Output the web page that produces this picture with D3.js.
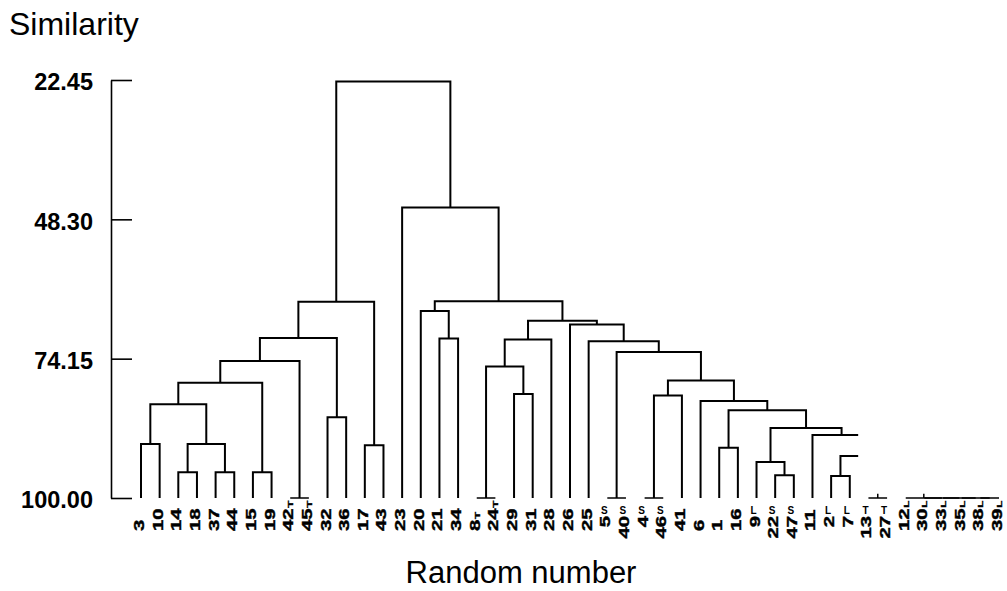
<!DOCTYPE html>
<html>
<head>
<meta charset="utf-8">
<script src="https://cdn.jsdelivr.net/npm/d3@7/dist/d3.min.js"></script>
<style>
  body { margin: 0; background: #fff; }
  svg { display: block; font-family: "Liberation Sans", Arial, sans-serif; }
</style>
</head>
<body>
<div id="chart"></div>
<script>
// leaf order along the bottom
var leaves = ["3","10","14","18","37","44","15","19","42","45","32","36","17","43",
	"23","20","21","34","8","24","29","31","28","26","25","5","40","4","46","41",
	"6","1","16","9","22","47","11","2","7","13","27","12","30","33","35","38","39"];

// small letters next to some labels: [leaf, letter, upright]
var tags = [
	["42","T",false],["45","T",false],["8","T",false],["24","T",false],
	["5","S",true],["40","S",true],["4","S",true],["46","S",true],
	["9","L",true],["22","S",true],["47","S",true],["2","L",true],["7","L",true],
	["13","T",true],["27","T",true],
	["12","L",false],["30","L",false],["33","L",false],["35","L",false],["38","L",false],["39","L",false]
];

// merges: [id, left, right, similarity]
// a number as child = branch that runs off the torn edge of the scan (leaf position)
var merges = [
	["m1","3","10",90.0],
	["m2","14","18",95.2],
	["m3","37","44",95.2],
	["m4","m2","m3",90.0],
	["m5","m1","m4",82.6],
	["m6","15","19",95.2],
	["m7","m5","m6",78.6],
	["m8","42","45",100],
	["m9","m7","m8",74.6],
	["m10","32","36",85.0],
	["m11","m9","m10",70.3],
	["m12","17","43",90.2],
	["m13","m11","m12",63.6],
	["m14","21","34",70.4],
	["m15","20","m14",65.3],
	["m16","8","24",100],
	["m17","29","31",80.7],
	["m18","m16","m17",75.6],
	["m19","m18","28",70.6],
	["m20","5","40",100],
	["m21","4","46",100],
	["m22","m21","41",81.0],
	["m23","1","16",90.7],
	["m24","22","47",95.8],
	["m25","9","m24",93.3],
	["m26","2","7",95.9],
	["m27","m26",40.2,92.2],
	["m28","11",39.12,88.3],
	["m29","m25","m28",87.0],
	["m30","m23","m29",83.7],
	["m31","6","m30",82.0],
	["m32","m22","m31",78.2],
	["m33","m20","m32",72.9],
	["m34","25","m33",70.9],
	["m35","26","m34",67.8],
	["m36","m19","m35",67.1],
	["m37","m15","m36",63.5],
	["m38","23","m37",46.1],
	["m39","m13","m38",22.75],
	["m40","13","27",100],
	["m41","38","39",100],
	["m42","35","m41",100],
	["m43","33","m42",100],
	["m44","30","m43",100],
	["m45","12","m44",100]
];

// clusters whose parent is lost beyond the torn edge
var openRoots = ["m27","m40","m45"];

var yTicks = [22.45, 48.30, 74.15, 100.00];

// torn edge of the scan (leaf position / similarity)
var cutLeaf = 38.45, cutSim = 99.2;

var width = 1007, height = 591;

var svg = d3.select("#chart").append("svg")
	.attr("width", width)
	.attr("height", height);

var x = d3.scaleLinear().domain([0, leaves.length - 1]).range([141, 999]);
var y = d3.scaleLinear().domain([22.45, 100]).range([80, 498]);

// titles
svg.append("text")
	.attr("x", 9).attr("y", 35)
	.style("font-size", "32px")
	.text("Similarity");

svg.append("text")
	.attr("x", 521).attr("y", 583)
	.attr("text-anchor", "middle")
	.style("font-size", "31px")
	.text("Random number");

// axis
var axis = svg.append("g")
	.attr("transform", "translate(111,0)")
	.call(d3.axisRight(y).tickValues(yTicks).tickFormat(d3.format(".2f")).tickSize(21).tickSizeOuter(0));
axis.select(".domain").attr("stroke", "#000").attr("stroke-width", 1.6);
axis.selectAll(".tick line").attr("stroke", "#000").attr("stroke-width", 1.6);
axis.selectAll(".tick text")
	.attr("x", -18)
	.attr("dy", "0.42em")
	.attr("text-anchor", "end")
	.attr("fill", "#000")
	.style("font-size", "23.5px")
	.style("font-weight", "bold")
	.style("font-family", "'Liberation Sans', Arial, sans-serif");

// node positions
var nodes = {};
leaves.forEach(function(l, i) { nodes[l] = { x: x(i), h: 100 }; });

function child(ref, h) {
	if (typeof ref === "number") return { x: x(ref), h: h };
	return nodes[ref];
}

var elbows = [];
merges.forEach(function(m) {
	var a = child(m[1], m[3]), b = child(m[2], m[3]);
	nodes[m[0]] = { x: (a.x + b.x) / 2, h: m[3] };
	elbows.push({ a: a, b: b, h: m[3] });
});

// clip for the torn part of the scan
var clip = svg.append("defs").append("clipPath").attr("id", "torn");
clip.append("rect").attr("x", 0).attr("y", 0).attr("width", x(cutLeaf)).attr("height", height);
clip.append("rect").attr("x", 0).attr("y", y(cutSim)).attr("width", width).attr("height", height - y(cutSim));

var tree = svg.append("g")
	.attr("clip-path", "url(#torn)")
	.attr("fill", "none")
	.attr("stroke", "#000");

tree.selectAll("path.elbow")
	.data(elbows)
	.enter().append("path")
	.attr("class", "elbow")
	.attr("stroke-width", function(d) { return d.h === 100 ? 1.5 : 2; })
	.attr("d", function(d) {
		return "M" + d.a.x + "," + y(d.a.h) + "V" + y(d.h) + "H" + d.b.x + "V" + y(d.b.h);
	});

tree.selectAll("line.open")
	.data(openRoots)
	.enter().append("line")
	.attr("class", "open")
	.attr("stroke-width", 1.5)
	.attr("x1", function(d) { return nodes[d].x; })
	.attr("x2", function(d) { return nodes[d].x; })
	.attr("y1", function(d) { return y(nodes[d].h); })
	.attr("y2", y(22.45));

// leaf labels
var tagOf = {};
tags.forEach(function(t) { tagOf[t[0]] = t; });

var labels = svg.append("g")
	.style("font-weight", "bold")
	.attr("fill", "#000");

leaves.forEach(function(l, i) {
	var t = tagOf[l];
	var up = t && t[2];
	var lab = labels.append("text")
		.attr("transform", "translate(" + (x(i) + 3) + "," + (up ? 516 : 531) + ") rotate(-90) scale(1.45,1)")
		.attr("text-anchor", up ? "end" : "start")
		.style("font-size", "14px")
		.style("stroke", "#000")
		.style("stroke-width", 0.4)
		.text(l);
	if (t && !t[2]) {
		lab.append("tspan").attr("dx", 0.5).style("font-size", "8px").text(t[1]);
	}
	if (up) {
		labels.append("text")
			.attr("x", x(i) - 3).attr("y", 514)
			.attr("text-anchor", "middle")
			.style("font-size", "10px")
			.text(t[1]);
	}
});
</script>
</body>
</html>
